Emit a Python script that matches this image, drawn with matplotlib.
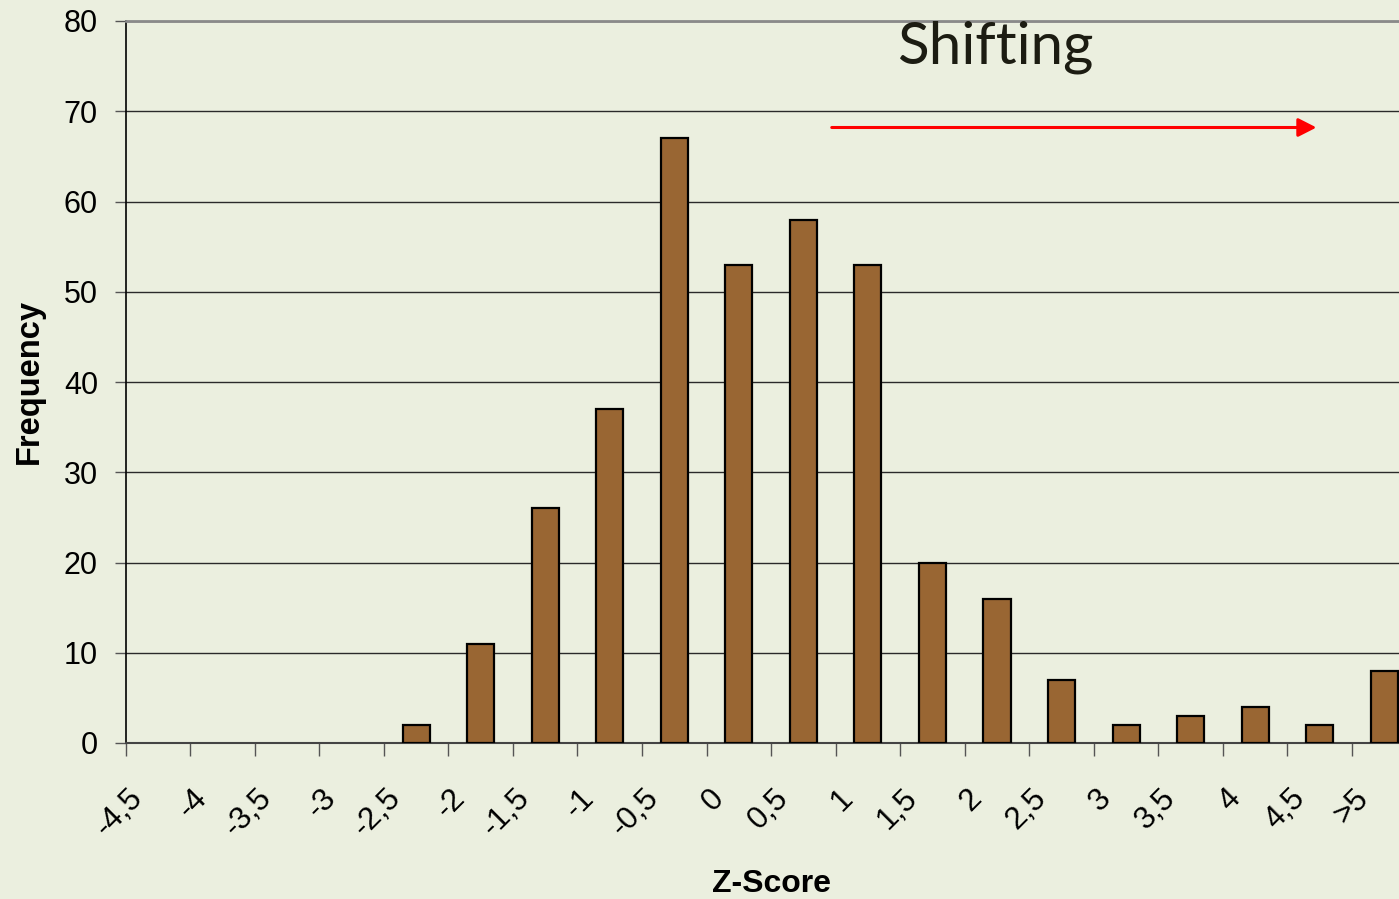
# Z-Score histogram with shifting arrow

import matplotlib.pyplot as plt
import numpy as np

# Data
categories = ['-4,5', '-4', '-3,5', '-3', '-2,5', '-2', '-1,5', '-1', '-0,5', '0',
              '0,5', '1', '1,5', '2', '2,5', '3', '3,5', '4', '4,5', '>5']
frequency = [0, 0, 0, 0, 2, 11, 26, 37, 67, 53, 58, 53, 20, 16, 7, 2, 3, 4, 2, 8]

bg = '#ebefdf'
plt.rcParams['font.family'] = 'Liberation Sans'

fig = plt.figure(figsize=(13.99, 8.99), dpi=100, facecolor=bg)
# axes runs a bit past the right edge (picture is cropped there)
ax = fig.add_axes([125.7 / 1399, 1 - 743 / 899, 1290.8 / 1399, 722 / 899], facecolor=bg)

x = np.arange(len(categories)) + 0.5
edges = ['black' if f > 0 else 'none' for f in frequency]
ax.bar(x, frequency, width=0.42, color='#996633', edgecolor=edges, linewidth=1.6, zorder=3)

ax.set_xlim(0, len(categories))
ax.set_ylim(0, 80)

# y axis + grid
ax.set_yticks(range(0, 81, 10))
ax.yaxis.grid(True, color='#2a2a2a', linewidth=1.0, zorder=1)
ax.tick_params(axis='y', labelsize=22, length=8, width=1.0, pad=12, color='#555555')

# x ticks on category boundaries, labels near the centers
ax.set_xticks(np.arange(len(categories) + 1))
ax.set_xticklabels([])
ax.tick_params(axis='x', which='major', length=9, width=1.0, color='#555555')
ax.set_xticks(np.arange(len(categories)) + 0.03, minor=True)
ax.set_xticklabels(categories, minor=True)
ax.tick_params(axis='x', which='minor', length=0, pad=29, labelsize=22.5)
for lbl in ax.get_xticklabels(minor=True):
    lbl.set_rotation(45)
    lbl.set_ha('right')
    lbl.set_va('top')
    lbl.set_rotation_mode('anchor')

ax.spines['right'].set_visible(False)
ax.spines['top'].set_color('#8a8a8a')
ax.spines['top'].set_linewidth(2)
ax.spines['left'].set_color('black')
ax.spines['left'].set_linewidth(1.2)
ax.spines['bottom'].set_color('#444444')
ax.spines['bottom'].set_linewidth(1.5)

ax.set_xlabel('Z-Score', fontsize=23, fontweight='bold')
ax.xaxis.set_label_coords(0.5, -0.175)
ax.set_ylabel('Frequency', fontsize=23.5, fontweight='bold')
ax.yaxis.set_label_coords(-0.063, 0.5)

# annotation
ax.text(11.95, 75.3, 'Shifting', fontsize=42, family='Lato', color='#1c1c12',
        ha='left', va='baseline')
ax.annotate('', xy=(18.45, 68.2), xytext=(10.94, 68.2),
            arrowprops=dict(arrowstyle='-|>,head_length=0.55,head_width=0.28',
                            color='red', lw=2.2, mutation_scale=20,
                            shrinkA=0, shrinkB=0))

plt.savefig('out.png', dpi=100, facecolor=bg)
